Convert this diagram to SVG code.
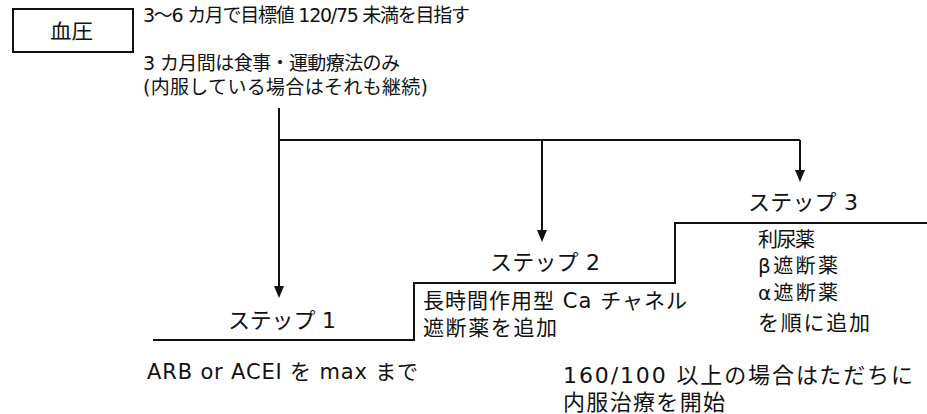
<svg xmlns="http://www.w3.org/2000/svg" width="927" height="414" viewBox="0 0 927 414">
<style>
text{font-family:"DejaVu Sans","Noto Sans CJK JP",sans-serif;font-size:20px;fill:#111}
.ln{stroke:#111;stroke-width:2;fill:none}
.l{font-size:22px}
.m{font-size:21px}
.s{font-size:19px}
</style>
<rect width="927" height="414" fill="#fff"/>
<g id="bp-box">
<rect x="13" y="9" width="120" height="43" class="ln"/>
<text x="50" y="39" textLength="43" lengthAdjust="spacingAndGlyphs">血圧</text>
</g>
<g id="header">
<text x="143" y="22" class="s" textLength="327" lengthAdjust="spacing">3～6 カ月で目標値 120/75 未満を目指す</text>
<text x="143" y="70" class="s" textLength="257" lengthAdjust="spacing">3 カ月間は食事・運動療法のみ</text>
<text x="143" y="94" class="s" textLength="285" lengthAdjust="spacing">(内服している場合はそれも継続)</text>
</g>
<g id="connectors">
<path class="ln" d="M279,108 V286"/>
<path d="M274,286 H284 L279,298 Z" fill="#111"/>
<path class="ln" d="M279,140 H800"/>
<path class="ln" d="M542,140 V230"/>
<path d="M537,230 H547 L542,242 Z" fill="#111"/>
<path class="ln" d="M800,140 V170"/>
<path d="M795,170 H805 L800,182 Z" fill="#111"/>
</g>
<g id="stairs">
<path class="ln" d="M153,340 H414 V283 H675 V223 H927"/>
</g>
<g id="step1">
<text x="228" y="328" class="l" textLength="108" lengthAdjust="spacing">ステップ 1</text>
<text x="147" y="379" class="m" textLength="271" lengthAdjust="spacing">ARB or ACEI を max まで</text>
</g>
<g id="step2">
<text x="490" y="270" class="l" textLength="110" lengthAdjust="spacing">ステップ 2</text>
<text x="423" y="308" class="m" textLength="264" lengthAdjust="spacing">長時間作用型 Ca チャネル</text>
<text x="423" y="335" class="m" textLength="134" lengthAdjust="spacing">遮断薬を追加</text>
</g>
<g id="step3">
<text x="748" y="210" class="l" textLength="110" lengthAdjust="spacing">ステップ 3</text>
<text x="758" y="247" textLength="57" lengthAdjust="spacing">利尿薬</text>
<text x="758" y="273" textLength="80" lengthAdjust="spacing">β遮断薬</text>
<text x="758" y="300" textLength="80" lengthAdjust="spacing">α遮断薬</text>
<text x="758" y="330" class="m" textLength="112" lengthAdjust="spacing">を順に追加</text>
</g>
<g id="note">
<text x="563" y="383" class="l" textLength="350" lengthAdjust="spacing">160/100 以上の場合はただちに</text>
<text x="563" y="410" class="l" textLength="162" lengthAdjust="spacing">内服治療を開始</text>
</g>
</svg>
